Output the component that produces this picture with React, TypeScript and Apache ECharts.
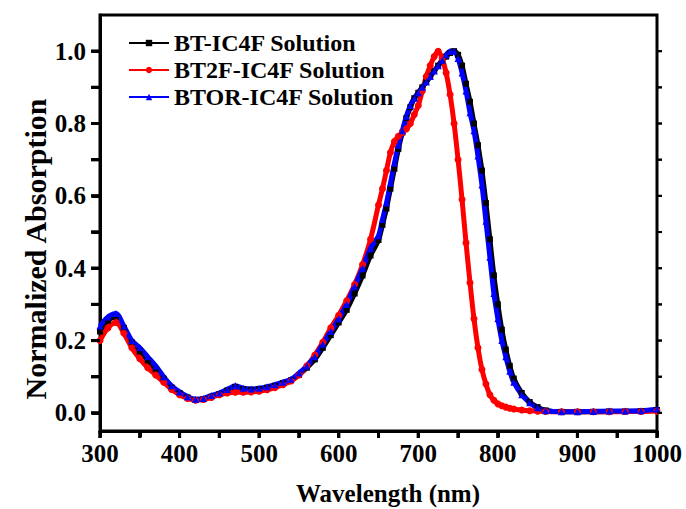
import React, { useEffect, useRef } from "react";
import * as echarts from "echarts";

const wavelengths = [
  300, 310, 320, 330, 340, 350, 360, 370, 380, 390, 400, 410, 420, 430, 440, 450, 460, 470, 480, 490,
  500, 510, 520, 530, 540, 550, 560, 570, 580, 590, 600, 610, 620, 630, 640, 650,
  655, 660, 665, 670, 675, 680, 685, 690, 695, 700, 705, 710, 715, 720, 725, 730, 735, 740, 745,
  750, 755, 760, 765, 770, 775, 780, 785, 790, 795, 800, 805, 810, 815, 820,
  830, 840, 850, 860, 880, 900, 920, 940, 960, 980, 1000,
];

const btIC4F = [
  0.225, 0.255, 0.265, 0.235, 0.195, 0.17, 0.145, 0.12, 0.095, 0.07, 0.055, 0.043, 0.036, 0.038, 0.045, 0.052, 0.062, 0.072, 0.066, 0.064,
  0.066, 0.07, 0.075, 0.082, 0.09, 0.105, 0.125, 0.148, 0.18, 0.215, 0.25, 0.285, 0.33, 0.38, 0.435, 0.478,
  0.52, 0.565, 0.62, 0.675, 0.73, 0.775, 0.815, 0.845, 0.87, 0.885, 0.9, 0.915, 0.93, 0.945, 0.96, 0.975, 0.985, 0.995, 1.0,
  0.99, 0.96, 0.91, 0.86, 0.8, 0.74, 0.67, 0.58, 0.48, 0.38, 0.3, 0.23, 0.175, 0.13, 0.095,
  0.055, 0.03, 0.016, 0.007, 0.003, 0.003, 0.003, 0.004, 0.004, 0.005, 0.008,
];

const bt2fIC4F = [
  0.2, 0.235, 0.25, 0.22, 0.18, 0.15, 0.125, 0.105, 0.085, 0.065, 0.05, 0.04, 0.035, 0.037, 0.043, 0.05, 0.055, 0.057, 0.057, 0.058,
  0.06, 0.064, 0.07, 0.078, 0.088, 0.105, 0.13, 0.16, 0.195, 0.235, 0.27, 0.31, 0.355, 0.41, 0.48, 0.575,
  0.62, 0.67, 0.72, 0.75, 0.765, 0.775, 0.785, 0.8, 0.825, 0.85, 0.89, 0.93, 0.96, 0.985, 1.0, 0.98, 0.94, 0.88, 0.8,
  0.7, 0.59, 0.47, 0.36, 0.26, 0.18, 0.12, 0.08, 0.05, 0.035, 0.025, 0.02, 0.016, 0.013, 0.011,
  0.008, 0.006, 0.005, 0.004, 0.003, 0.003, 0.003, 0.003, 0.004, 0.004, 0.005,
];

const btorIC4F = [
  0.24, 0.265, 0.275, 0.24, 0.2, 0.18, 0.155, 0.13, 0.1, 0.075, 0.058, 0.045, 0.038, 0.04, 0.048, 0.055, 0.065, 0.075, 0.068, 0.066,
  0.068, 0.072, 0.078, 0.085, 0.093, 0.11, 0.13, 0.155, 0.19, 0.225, 0.26, 0.3, 0.35, 0.4, 0.455, 0.49,
  0.535, 0.58, 0.635, 0.69, 0.74, 0.78, 0.82, 0.85, 0.87, 0.885, 0.9, 0.915, 0.93, 0.945, 0.96, 0.975, 0.99, 1.0, 1.0,
  0.98, 0.94, 0.89, 0.83, 0.78, 0.71, 0.63, 0.53, 0.43, 0.33, 0.26, 0.2, 0.155, 0.115, 0.085,
  0.05, 0.028, 0.014, 0.006, 0.003, 0.003, 0.004, 0.005, 0.005, 0.006, 0.01,
];

const xLabelValues = [300, 400, 500, 600, 700, 800, 900, 1000];
const xTickValues = [300, 350, 400, 450, 500, 550, 600, 650, 700, 750, 800, 850, 900, 950, 1000];
const yLabelValues = [0, 0.2, 0.4, 0.6, 0.8, 1.0];
const yTickValues = [0, 0.1, 0.2, 0.3, 0.4, 0.5, 0.6, 0.7, 0.8, 0.9, 1.0];

const seriesNames = ["BT-IC4F Solution", "BT2F-IC4F Solution", "BTOR-IC4F Solution"];

const X_MIN = 300;
const X_MAX = 1000;
const Y_MIN = -0.05;
const Y_MAX = 1.1;

const FONT = "'Liberation Serif', 'Times New Roman', serif";

export default function App() {
  const ref = useRef<HTMLDivElement>(null);
  useEffect(() => {
    if (!ref.current) return;
    const chart = echarts.init(ref.current, null, { renderer: "svg" });
    const pair = (ys: number[]) => wavelengths.map((w, i) => [w, ys[i]]);
    const mk = (name: string, ys: number[], color: string, symbol: string, size: number) => ({
      name,
      type: "line",
      data: pair(ys),
      smooth: 0.3,
      symbol,
      symbolSize: size,
      showSymbol: true,
      lineStyle: { color, width: 5 },
      itemStyle: { color },
      color,
      z: 3,
    });
    const textBase = {
      fontFamily: FONT,
      fontWeight: "bold",
      color: "#000",
    };
    const tickSeries = (values: number[], kind: "x" | "left" | "right") => ({
      type: "custom",
      silent: true,
      clip: false,
      z: 10,
      data: values.map((v) => (kind === "x" ? [v, Y_MIN] : [kind === "left" ? X_MIN : X_MAX, v])),
      encode: { x: 0, y: 1 },
      renderItem: (_params: any, api: any) => {
        const p = api.coord([api.value(0), api.value(1)]);
        if (kind === "x") {
          return {
            type: "rect",
            shape: { x: p[0] - 1.5, y: p[1], width: 3, height: 7 },
            style: { fill: "#000" },
          };
        }
        if (kind === "left") {
          return {
            type: "rect",
            shape: { x: p[0] - 9, y: p[1] - 1.5, width: 9, height: 3 },
            style: { fill: "#000" },
          };
        }
        return {
          type: "rect",
          shape: { x: p[0], y: p[1] - 1, width: 5, height: 2 },
          style: { fill: "#000" },
        };
      },
    });
    chart.setOption({
      animation: false,
      grid: {
        left: 100,
        right: 29,
        top: 15,
        bottom: 78,
        show: true,
        borderColor: "#000",
        borderWidth: 3,
      },
      legend: {
        orient: "vertical",
        left: 128,
        top: 31,
        padding: 0,
        itemWidth: 40,
        itemHeight: 8,
        itemGap: 3,
        textStyle: { ...textBase, fontSize: 24, lineHeight: 24 },
        data: seriesNames,
      },
      xAxis: {
        type: "value",
        min: X_MIN,
        max: X_MAX,
        axisLine: { show: true, onZero: false, lineStyle: { color: "#000", width: 3 } },
        axisTick: {
          show: true,
          inside: false,
          length: 6,
          customValues: xTickValues,
          lineStyle: { color: "#000", width: 3 },
        },
        axisLabel: {
          ...textBase,
          customValues: xLabelValues,
          margin: 10,
          fontSize: 25,
          formatter: (v: number) => String(v),
        },
        splitLine: { show: false },
      },
      yAxis: {
        type: "value",
        min: Y_MIN,
        max: Y_MAX,
        axisLine: { show: true, onZero: false, lineStyle: { color: "#000", width: 3 } },
        axisTick: {
          show: true,
          inside: false,
          length: 8,
          customValues: yTickValues,
          lineStyle: { color: "#000", width: 3 },
        },
        axisLabel: {
          ...textBase,
          customValues: yLabelValues,
          margin: 14,
          fontSize: 25,
          formatter: (v: number) => v.toFixed(1),
        },
        splitLine: { show: false },
      },
      series: [
        mk(seriesNames[0], btIC4F, "#000000", "rect", 6),
        mk(seriesNames[1], bt2fIC4F, "#ff0000", "circle", 7),
        mk(seriesNames[2], btorIC4F, "#0000ff", "triangle", 7),
        tickSeries(xTickValues, "x"),
        tickSeries(yTickValues, "left"),
        tickSeries(yTickValues, "right"),
      ],
    });

    // Same tick marks again as graphic elements, placed through the chart's scales
    const toPx = (x: number, y: number) =>
      chart.convertToPixel({ seriesIndex: 0 }, [x, y]) as number[];
    const ticks: any[] = [];
    xTickValues.forEach((v) => {
      const p = toPx(v, Y_MIN);
      ticks.push({
        type: "line",
        z: 100,
        shape: { x1: p[0], y1: p[1], x2: p[0], y2: p[1] + 7 },
        style: { stroke: "#000", lineWidth: 3 },
      });
    });
    yTickValues.forEach((v) => {
      const pl = toPx(X_MIN, v);
      const pr = toPx(X_MAX, v);
      ticks.push({
        type: "line",
        z: 100,
        shape: { x1: pl[0], y1: pl[1], x2: pl[0] - 9, y2: pl[1] },
        style: { stroke: "#000", lineWidth: 3 },
      });
      ticks.push({
        type: "line",
        z: 100,
        shape: { x1: pr[0], y1: pr[1], x2: pr[0] + 5, y2: pr[1] },
        style: { stroke: "#000", lineWidth: 2 },
      });
    });
    chart.setOption({
      graphic: [
        {
          type: "text",
          x: 35,
          y: 249,
          rotation: Math.PI / 2,
          style: {
            text: "Normalized Absorption",
            x: 0,
            y: 0,
            align: "center",
            verticalAlign: "middle",
            fontFamily: FONT,
            fontWeight: "bold",
            fontSize: 30,
            fill: "#000",
          },
        },
        {
          type: "text",
          x: 388,
          y: 493,
          style: {
            text: "Wavelength (nm)",
            x: 0,
            y: 0,
            align: "center",
            verticalAlign: "middle",
            fontFamily: FONT,
            fontWeight: "bold",
            fontSize: 25,
            fill: "#000",
          },
        },
        ...ticks,
      ],
    });
    return () => chart.dispose();
  }, []);
  return (
    <div
      ref={ref}
      style={{ position: "absolute", left: 0, top: 0, width: 686, height: 509 }}
    />
  );
}
